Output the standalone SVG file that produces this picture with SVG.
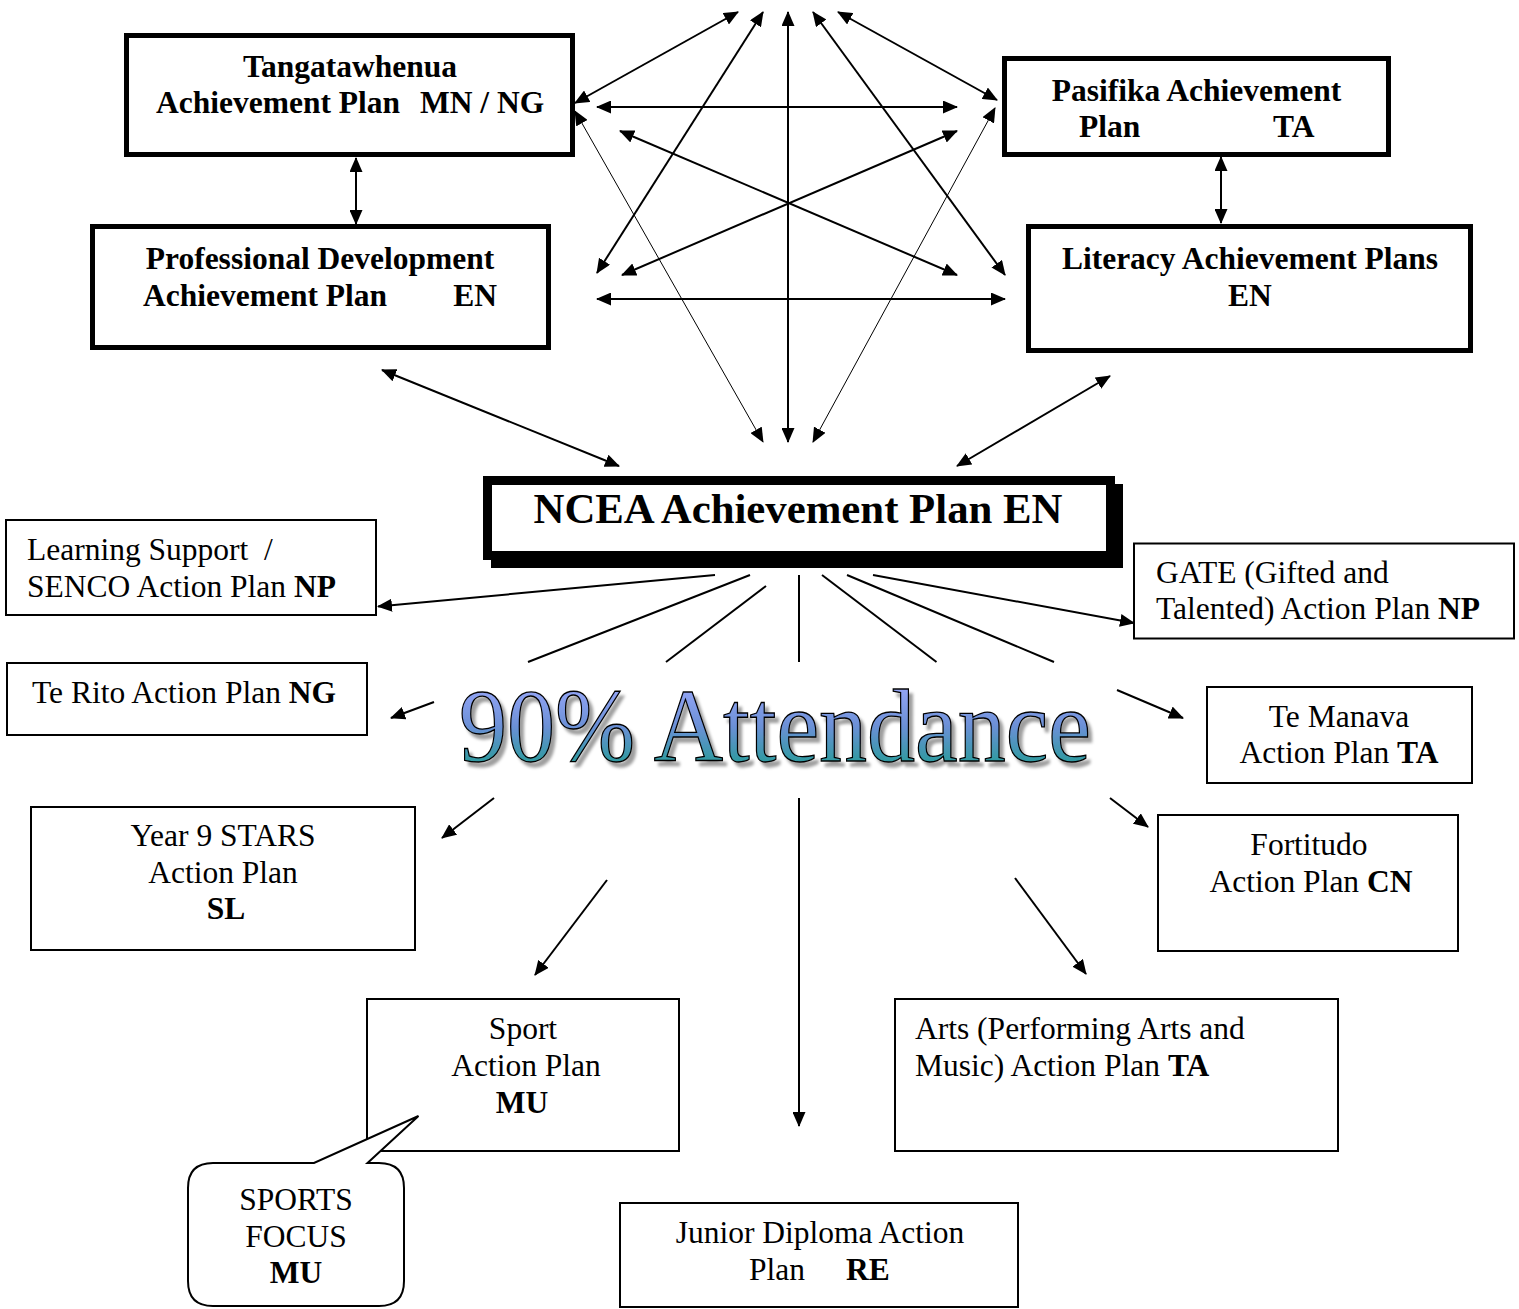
<svg xmlns="http://www.w3.org/2000/svg" width="1519" height="1309" viewBox="0 0 1519 1309">
<style>
.thick{fill:#fff;stroke:#000;stroke-width:5}
.thin{fill:#fff;stroke:#000;stroke-width:2}
.b{font-family:"Liberation Serif","Times New Roman",serif;font-weight:bold;font-size:31.5px;fill:#000}
.r{font-family:"Liberation Serif","Times New Roman",serif;font-size:31.5px;fill:#000}
.bb{font-weight:bold}
.c{text-anchor:middle}
.ln{fill:none;stroke:#000;stroke-width:2}
.lt{fill:none;stroke:#000;stroke-width:1}
.e{marker-end:url(#ah)}
.d{marker-end:url(#ah);marker-start:url(#ah)}
</style>
<defs>
<marker id="ah" viewBox="0 0 15 13" refX="14" refY="6.5" markerWidth="15" markerHeight="13" markerUnits="userSpaceOnUse" orient="auto-start-reverse">
<path d="M0,0 L15,6.5 L0,13 z" fill="#000"/>
</marker>
<linearGradient id="wa" gradientUnits="userSpaceOnUse" x1="0" y1="690" x2="0" y2="763">
<stop offset="0" stop-color="#92a4f4"/>
<stop offset="0.5" stop-color="#6b90d6"/>
<stop offset="1" stop-color="#2d9a9e"/>
</linearGradient>
<filter id="ds" x="-5%" y="-20%" width="115%" height="150%">
<feGaussianBlur in="SourceAlpha" stdDeviation="1.5" result="b"/>
<feOffset in="b" dx="4" dy="5" result="o"/>
<feFlood flood-color="#000" flood-opacity="0.38"/>
<feComposite in2="o" operator="in" result="s"/>
<feMerge><feMergeNode in="s"/><feMergeNode in="SourceGraphic"/></feMerge>
</filter>
</defs>
<rect width="1519" height="1309" fill="#fff"/>

<g id="connectors">
<line class="ln d" x1="575" y1="103" x2="738" y2="12"/>
<line class="ln d" x1="597" y1="273" x2="763" y2="12"/>
<line class="ln d" x1="788" y1="12" x2="788" y2="442"/>
<line class="ln d" x1="1005" y1="275" x2="813" y2="12"/>
<line class="ln d" x1="997" y1="100" x2="838" y2="12"/>
<line class="ln d" x1="597" y1="107" x2="957" y2="107"/>
<line class="ln d" x1="597" y1="299" x2="1005" y2="299"/>
<line class="ln d" x1="620" y1="131" x2="957" y2="275"/>
<line class="ln d" x1="957" y1="131" x2="622" y2="275"/>
<line class="lt d" x1="575" y1="111" x2="763" y2="442"/>
<line class="lt d" x1="995" y1="108" x2="813" y2="442"/>
<line class="ln d" x1="356" y1="158" x2="356" y2="224"/>
<line class="ln d" x1="1221" y1="157" x2="1221" y2="223"/>
<line class="ln d" x1="382" y1="370" x2="619" y2="466"/>
<line class="ln d" x1="1110" y1="376" x2="957" y2="466"/>
<line class="ln e" x1="715" y1="575" x2="378" y2="606.5"/>
<line class="ln" x1="750" y1="575" x2="528" y2="662"/>
<line class="ln" x1="766" y1="586" x2="666" y2="662"/>
<line class="ln" x1="799" y1="575" x2="799" y2="662"/>
<line class="ln" x1="822" y1="575" x2="936.5" y2="662"/>
<line class="ln" x1="847" y1="575" x2="1054" y2="662"/>
<line class="ln e" x1="873" y1="575" x2="1134" y2="623"/>
<line class="ln e" x1="434" y1="702" x2="391" y2="718"/>
<line class="ln e" x1="494" y1="798" x2="442" y2="838"/>
<line class="ln e" x1="607" y1="880" x2="535" y2="975"/>
<line class="ln e" x1="799" y1="798" x2="799" y2="1126"/>
<line class="ln e" x1="1015" y1="878" x2="1086" y2="974"/>
<line class="ln e" x1="1110" y1="798" x2="1148" y2="827"/>
<line class="ln e" x1="1117" y1="690" x2="1183" y2="718"/>
</g>

<g id="tangatawhenua">
<rect class="thick" x="126.5" y="35.5" width="446" height="119"/>
<text class="b c" x="350" y="77">Tangatawhenua</text>
<text class="b" y="113"><tspan x="156">Achievement Plan</tspan><tspan x="420">MN / NG</tspan></text>
</g>

<g id="profdev">
<rect class="thick" x="92.5" y="226.5" width="456" height="121"/>
<text class="b c" x="320" y="269">Professional Development</text>
<text class="b" y="306"><tspan x="143">Achievement Plan</tspan><tspan x="497" text-anchor="end">EN</tspan></text>
</g>

<g id="pasifika">
<rect class="thick" x="1004.5" y="58.5" width="384" height="96"/>
<text class="b c" x="1196.5" y="101">Pasifika Achievement</text>
<text class="b" y="137"><tspan x="1079">Plan</tspan><tspan x="1273">TA</tspan></text>
</g>

<g id="literacy">
<rect class="thick" x="1028.5" y="226.5" width="442" height="124"/>
<text class="b c" x="1250" y="269">Literacy Achievement Plans</text>
<text class="b c" x="1250" y="306">EN</text>
</g>

<g id="ncea">
<rect x="491" y="484" width="632" height="84" fill="#000"/>
<rect x="487.5" y="480.5" width="623" height="75" fill="#fff" stroke="#000" stroke-width="9"/>
<text class="b c" x="798" y="523" style="font-size:42.8px">NCEA Achievement Plan EN</text>
</g>

<g id="learning-support">
<rect class="thin" x="6" y="520" width="370" height="95"/>
<text class="r" y="560"><tspan x="27">Learning Support</tspan><tspan x="264">/</tspan></text>
<text class="r" x="27" y="597">SENCO Action Plan <tspan class="bb">NP</tspan></text>
</g>

<g id="gate">
<rect class="thin" x="1134" y="543.5" width="380" height="95"/>
<text class="r" x="1156" y="583">GATE (Gifted and</text>
<text class="r" x="1156" y="619">Talented) Action Plan <tspan class="bb">NP</tspan></text>
</g>

<g id="te-rito">
<rect class="thin" x="7" y="663" width="360" height="72"/>
<text class="r" x="32" y="703">Te Rito Action Plan <tspan class="bb">NG</tspan></text>
</g>

<g id="te-manava">
<rect class="thin" x="1207" y="687" width="265" height="96"/>
<text class="r c" x="1339" y="727">Te Manava</text>
<text class="r c" x="1339" y="763">Action Plan <tspan class="bb">TA</tspan></text>
</g>

<g id="year9">
<rect class="thin" x="31" y="807" width="384" height="143"/>
<text class="r c" x="223" y="846">Year 9 STARS</text>
<text class="r c" x="223" y="883">Action Plan</text>
<text class="r c bb" x="226" y="919">SL</text>
</g>

<g id="fortitudo">
<rect class="thin" x="1158" y="815" width="300" height="136"/>
<text class="r c" x="1309" y="855">Fortitudo</text>
<text class="r c" x="1311" y="892">Action Plan <tspan class="bb">CN</tspan></text>
</g>

<g id="sport">
<rect class="thin" x="367" y="999" width="312" height="152"/>
<text class="r c" x="523" y="1039">Sport</text>
<text class="r c" x="526" y="1076">Action Plan</text>
<text class="r c bb" x="522" y="1113">MU</text>
</g>

<g id="arts">
<rect class="thin" x="895" y="999" width="443" height="152"/>
<text class="r" x="915" y="1039">Arts (Performing Arts and</text>
<text class="r" x="915" y="1076">Music) Action Plan <tspan class="bb">TA</tspan></text>
</g>

<g id="junior-diploma">
<rect class="thin" x="620" y="1203" width="398" height="104"/>
<text class="r c" x="820" y="1243">Junior Diploma Action</text>
<text class="r" y="1280"><tspan x="749">Plan</tspan><tspan class="bb" x="846">RE</tspan></text>
</g>

<g id="sports-focus">
<path d="M213,1163 L314,1163 L418.5,1116 L367.5,1163 L379,1163 Q404,1163 404,1188 L404,1281 Q404,1306 379,1306 L213,1306 Q188,1306 188,1281 L188,1188 Q188,1163 213,1163 Z" fill="#fff" stroke="#000" stroke-width="2"/>
<text class="r c" x="296" y="1210">SPORTS</text>
<text class="r c" x="296" y="1247">FOCUS</text>
<text class="r c bb" x="296" y="1283">MU</text>
</g>

<g id="attendance">
<text x="459" y="761" textLength="632" lengthAdjust="spacingAndGlyphs" style="font-family:'Liberation Serif','Times New Roman',serif;font-size:104px" fill="url(#wa)" stroke="#000" stroke-width="1.3" filter="url(#ds)">90% Attendance</text>
</g>
</svg>
